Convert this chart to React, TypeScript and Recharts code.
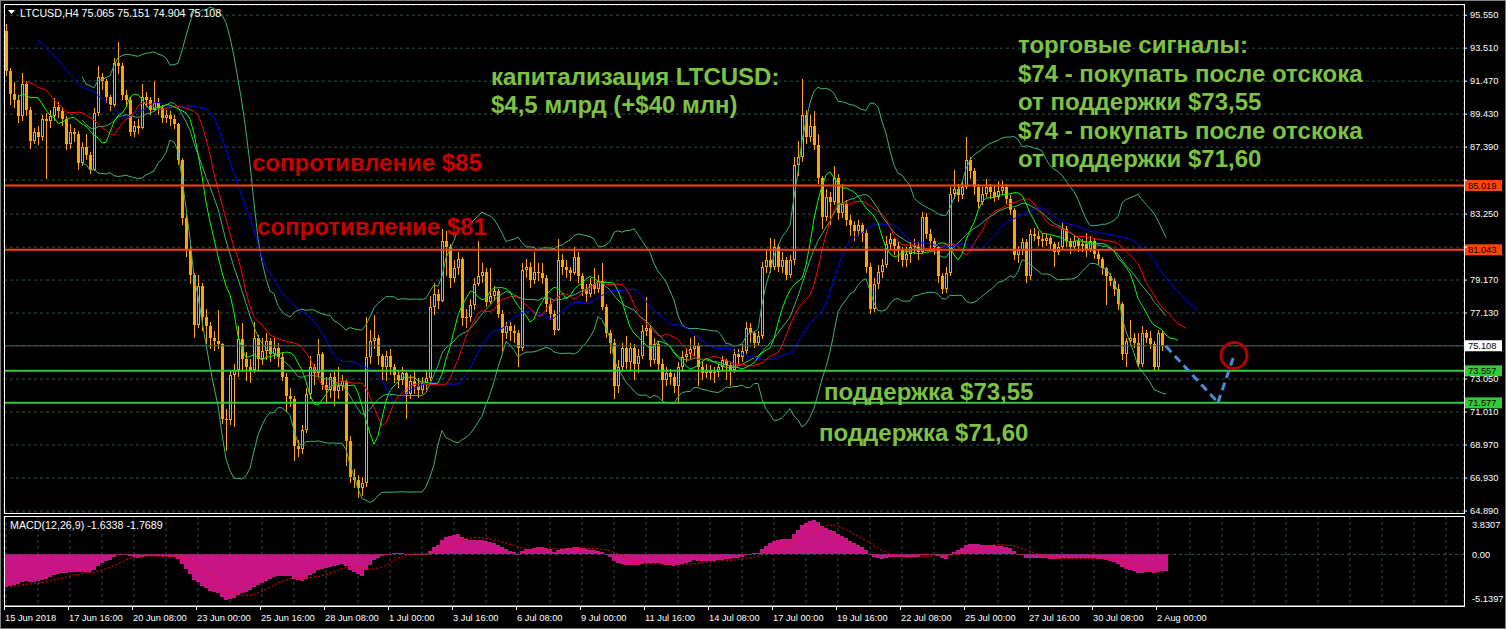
import React from 'react';
import {
  ComposedChart,
  Bar,
  Line,
  XAxis,
  YAxis,
  CartesianGrid,
  ReferenceLine,
  ReferenceDot,
} from 'recharts';

// LTCUSD H4, 15 Jun 2018 00:00 .. 2 Aug 2018 08:00 (291 bars, open = previous close)
const firstOpen = 94.6;

const closes = [
  92.1, 90.7, 90.3, 89.3, 91.3, 89.7, 87.8, 88.3, 88.0, 89.1, 89.0, 89.3, 89.9, 89.6, 89.1, 87.6,
  88.3, 88.2, 86.4, 87.4, 86.9, 86.0, 89.5, 91.7, 91.5, 90.5, 90.0, 92.6, 92.4, 90.6, 90.3, 88.3,
  88.7, 88.6, 90.5, 90.3, 89.7, 90.1, 89.8, 89.2, 89.4, 89.1, 88.8, 86.6, 83.0, 81.1, 79.5, 76.4,
  78.8, 76.9, 76.3, 75.6, 75.4, 75.2, 70.6, 70.5, 73.3, 73.6, 75.5, 74.3, 73.8, 73.6, 75.6, 74.3,
  74.8, 75.4, 74.6, 75.0, 74.4, 73.2, 72.0, 71.8, 68.9, 68.7, 69.9, 72.1, 73.8, 73.4, 74.6, 72.7,
  72.4, 73.2, 72.3, 72.6, 72.9, 69.2, 67.0, 66.8, 66.3, 66.6, 74.4, 75.4, 75.6, 74.5, 73.8, 74.5,
  73.8, 73.3, 73.0, 73.4, 72.1, 72.9, 72.6, 72.4, 72.8, 73.1, 77.5, 78.3, 77.9, 81.6, 81.2, 79.3,
  79.9, 80.5, 76.8, 76.9, 77.6, 78.9, 79.4, 79.7, 77.8, 78.2, 78.5, 77.1, 75.9, 76.3, 76.0, 75.9,
  75.0, 79.8, 80.0, 79.2, 79.7, 79.6, 79.3, 77.7, 77.1, 76.1, 80.4, 80.0, 79.8, 79.6, 80.6, 79.4,
  78.6, 78.3, 78.9, 78.6, 79.1, 77.5, 75.9, 75.3, 72.6, 73.8, 75.0, 74.1, 75.0, 74.0, 74.5, 76.0,
  76.2, 74.2, 75.2, 74.0, 73.0, 73.4, 73.2, 72.6, 73.8, 74.4, 74.6, 74.9, 75.1, 73.8, 73.4, 73.6,
  73.4, 73.5, 73.8, 74.2, 73.9, 73.6, 74.6, 74.4, 74.8, 76.2, 75.9, 75.3, 75.7, 80.0, 80.4, 80.0,
  81.2, 80.0, 80.4, 79.5, 80.4, 86.3, 86.8, 89.4, 88.0, 88.7, 87.5, 85.5, 83.1, 84.3, 84.0, 85.5,
  83.3, 83.9, 82.9, 82.6, 82.2, 82.6, 82.1, 80.0, 77.4, 78.9, 79.7, 80.1, 81.4, 81.7, 81.3, 81.0,
  80.4, 80.8, 81.2, 81.3, 80.9, 83.1, 82.0, 81.6, 81.2, 79.4, 78.6, 79.6, 84.5, 84.8, 84.4, 84.9,
  86.6, 85.9, 84.9, 84.0, 84.5, 84.9, 84.6, 84.3, 84.7, 84.9, 84.2, 83.5, 80.7, 81.0, 81.5, 79.4,
  82.0, 81.9, 81.7, 81.6, 81.8, 81.4, 80.9, 81.2, 82.3, 81.6, 81.2, 81.6, 81.3, 81.4, 81.1, 81.6,
  80.8, 80.5, 79.9, 79.4, 79.1, 78.6, 77.7, 74.6, 75.4, 75.6, 75.3, 74.0, 75.9, 75.6, 75.2, 73.8,
  75.9, 75.065, 75.108,
];

const highs = [
  95.0, 92.3, 91.4, 90.6, 92.0, 91.5, 89.9, 88.6, 88.7, 89.4, 89.5, 89.7, 90.4, 90.2, 89.9, 89.3,
  88.8, 88.6, 88.4, 87.7, 88.2, 87.1, 89.8, 92.4, 92.0, 91.6, 90.6, 92.9, 93.9, 92.6, 90.9, 90.5,
  89.0, 89.1, 91.3, 90.8, 90.5, 91.5, 90.4, 90.0, 89.7, 89.6, 89.4, 88.9, 86.7, 83.2, 81.3, 79.6,
  79.5, 79.0, 77.4, 76.6, 76.0, 77.3, 75.3, 71.2, 73.6, 74.0, 76.3, 76.5, 74.7, 74.3, 76.6, 75.8,
  75.6, 75.9, 75.6, 75.6, 75.3, 74.7, 73.4, 72.5, 72.0, 69.3, 70.2, 72.5, 74.5, 74.0, 75.5, 74.7,
  73.2, 73.4, 73.5, 73.8, 73.3, 73.0, 69.5, 67.5, 67.1, 67.0, 76.9, 76.1, 77.0, 75.8, 74.6, 74.8,
  74.9, 74.0, 73.6, 73.8, 73.5, 73.3, 73.6, 73.1, 73.2, 73.6, 78.2, 79.0, 78.6, 82.3, 82.2, 81.4,
  80.4, 80.9, 80.6, 77.4, 78.0, 79.3, 81.6, 80.2, 79.9, 79.9, 78.8, 78.6, 77.3, 76.6, 76.6, 76.4,
  76.1, 80.2, 80.5, 80.3, 80.9, 80.2, 80.2, 79.5, 78.0, 77.3, 81.7, 80.8, 80.4, 80.0, 81.2, 80.9,
  79.6, 78.9, 79.3, 79.9, 79.5, 80.2, 77.7, 76.1, 75.5, 74.2, 75.3, 75.7, 75.3, 75.2, 74.9, 76.4,
  78.1, 76.4, 75.6, 75.4, 74.3, 73.8, 73.7, 73.4, 74.1, 74.8, 75.0, 75.6, 75.7, 75.3, 74.1, 74.0,
  73.9, 73.8, 74.0, 74.5, 74.3, 74.1, 74.9, 74.9, 75.2, 76.6, 76.5, 76.0, 76.0, 80.3, 81.1, 81.8,
  81.7, 81.4, 80.9, 80.6, 80.7, 86.8, 87.8, 91.6, 89.7, 89.4, 89.6, 88.2, 85.6, 84.8, 84.6, 86.2,
  85.7, 85.1, 84.1, 83.2, 82.8, 82.9, 82.7, 82.3, 80.2, 79.3, 80.1, 80.5, 81.9, 82.1, 81.8, 81.5,
  81.2, 81.2, 81.5, 81.7, 81.5, 83.4, 83.3, 82.3, 81.8, 81.3, 79.6, 80.0, 84.9, 86.0, 85.1, 85.3,
  88.0, 86.8, 86.1, 85.1, 84.9, 85.4, 85.1, 85.0, 85.3, 85.3, 85.1, 84.4, 83.6, 81.3, 81.8, 81.7,
  82.3, 82.4, 82.2, 82.1, 82.0, 81.9, 81.5, 81.5, 82.7, 82.5, 81.8, 81.9, 81.8, 81.7, 82.1, 81.9,
  81.7, 81.0, 80.6, 80.0, 79.6, 79.3, 78.9, 77.8, 75.6, 76.7, 75.9, 75.9, 76.3, 76.1, 76.0, 75.4,
  76.1, 76.0, 75.151,
];

const lows = [
  91.8, 90.0, 89.8, 88.9, 89.0, 89.3, 87.3, 87.6, 87.5, 87.8, 85.4, 88.6, 89.0, 89.2, 88.7, 87.2,
  87.3, 87.7, 86.0, 86.2, 86.6, 85.7, 85.9, 89.3, 90.9, 90.1, 89.6, 89.9, 91.9, 90.3, 89.9, 88.1,
  88.0, 88.2, 88.5, 89.9, 89.4, 89.6, 89.4, 88.9, 88.9, 88.7, 88.5, 86.3, 82.6, 80.6, 78.9, 75.6,
  76.2, 76.0, 75.2, 74.9, 74.8, 74.9, 70.3, 68.6, 70.2, 70.1, 73.2, 73.5, 72.9, 72.8, 73.4, 73.5,
  73.9, 74.2, 74.1, 74.3, 73.8, 72.9, 71.0, 71.3, 68.0, 68.2, 68.4, 69.7, 71.8, 72.7, 73.1, 72.4,
  71.5, 71.9, 71.4, 71.8, 72.3, 67.7, 66.6, 66.3, 65.7, 65.8, 66.4, 74.0, 74.9, 73.9, 73.0, 72.9,
  73.3, 72.8, 72.5, 72.7, 70.6, 71.8, 72.1, 71.9, 72.1, 72.4, 72.9, 77.0, 77.4, 77.8, 79.4, 78.7,
  79.0, 79.5, 76.3, 76.2, 76.6, 77.3, 78.8, 79.0, 77.5, 77.6, 77.9, 76.8, 74.8, 75.5, 75.4, 75.3,
  73.8, 74.8, 79.3, 78.7, 78.9, 79.1, 78.9, 77.2, 76.7, 75.8, 76.0, 79.5, 79.3, 79.1, 79.5, 79.0,
  78.2, 77.8, 78.1, 78.3, 78.4, 77.3, 75.6, 74.6, 71.8, 72.2, 73.5, 73.7, 73.6, 73.0, 73.4, 74.3,
  75.7, 73.8, 74.0, 73.6, 71.7, 72.6, 72.7, 72.2, 71.5, 73.5, 74.1, 74.3, 74.5, 72.6, 73.0, 73.1,
  73.0, 72.8, 73.2, 73.5, 73.0, 72.6, 73.4, 74.0, 74.1, 74.6, 75.3, 75.0, 75.1, 75.5, 79.6, 79.6,
  79.8, 79.7, 79.6, 79.2, 79.3, 80.1, 85.6, 86.5, 87.6, 87.7, 87.2, 85.1, 82.3, 82.8, 82.6, 83.8,
  82.9, 83.0, 82.5, 81.9, 81.6, 81.9, 81.5, 79.6, 77.1, 77.2, 78.6, 79.3, 79.9, 81.0, 80.7, 80.3,
  80.0, 80.0, 80.2, 80.8, 80.4, 80.8, 81.7, 81.1, 80.7, 79.0, 78.3, 78.4, 79.4, 84.2, 84.0, 84.2,
  84.8, 85.4, 84.4, 83.6, 83.8, 84.3, 84.2, 84.0, 84.1, 84.4, 83.9, 83.2, 80.4, 80.2, 80.7, 79.0,
  79.2, 81.6, 81.3, 81.2, 81.3, 81.0, 80.0, 80.7, 81.0, 81.2, 80.8, 81.0, 80.9, 80.9, 80.6, 80.9,
  80.5, 80.1, 79.5, 77.6, 78.8, 78.2, 77.3, 74.2, 73.8, 75.1, 75.0, 73.8, 73.8, 75.3, 74.9, 73.6,
  73.6, 74.8, 74.904,
];

// indicator values at the left edge
const jawStart = 94.0;
const teethStart = 91.4;
const lipsStart = 90.5;
const macdStart = -3.25;

const priceTicks = [
  95.55, 93.51, 91.47, 89.43, 87.39, 85.35, 83.25, 81.21, 79.17, 77.13, 75.09, 73.05, 71.01, 68.97,
  66.93, 64.89,
];
const coveredTicks = [85.35, 81.21, 75.09];
const macdTicks = [3.8307, 0, -5.1397];

const timeLabels = [
  '15 Jun 2018', '17 Jun 16:00', '20 Jun 08:00', '23 Jun 00:00', '25 Jun 16:00', '28 Jun 08:00',
  '1 Jul 00:00', '3 Jul 16:00', '6 Jul 08:00', '9 Jul 00:00', '11 Jul 16:00', '14 Jul 08:00',
  '17 Jul 00:00', '19 Jul 16:00', '22 Jul 08:00', '25 Jul 00:00', '27 Jul 16:00', '30 Jul 08:00',
  '2 Aug 00:00',
];

const resistanceLevels = [85.019, 81.043];
const supportLevels = [73.557, 71.577];
const bidPrice = 75.108;

const forecastBars = [290, 303, 307];
const forecastPrices = [75.07, 71.6, 74.5];

// ---------- layout ----------
const W = 1506;
const H = 629;
const SLOTS = 365; // bars incl. empty space on the right
const AXIS_W = 42;
const CANDLE = '#FFA500';
const GRID = '#2F4F4F';
const HIST = '#C71585';
const FONT = '"Liberation Sans", Arial, sans-serif';

// ---------- indicators ----------
const N = closes.length;
const opens = closes.map((c, i) => (i === 0 ? firstOpen : closes[i - 1]));
const medians = highs.map((h, i) => (h + lows[i]) / 2);

function smma(src: number[], period: number, start: number) {
  let v = start;
  return src.map((p, i) => {
    if (i > 0) v = (v * (period - 1) + p) / period;
    return v;
  });
}

const jaw = smma(medians, 13, jawStart);
const teeth = smma(medians, 8, teethStart);
const lips = smma(medians, 5, lipsStart);

const bands = closes.map((_, i) => {
  if (i < 19) return null;
  const win = closes.slice(i - 19, i + 1);
  const mean = win.reduce((a, b) => a + b, 0) / 20;
  const sd = Math.sqrt(win.reduce((a, b) => a + (b - mean) * (b - mean), 0) / 20);
  return { mid: mean, up: mean + 2 * sd, lo: mean - 2 * sd };
});

let e12 = closes[0];
let e26 = closes[0] - macdStart;
const macd = closes.map((c, i) => {
  if (i > 0) {
    e12 += (2 / 13) * (c - e12);
    e26 += (2 / 27) * (c - e26);
  }
  return e12 - e26;
});
const signal = macd.map((_, i) => {
  const w = macd.slice(Math.max(0, i - 8), i + 1);
  return w.reduce((a, b) => a + b, 0) / w.length;
});

const shifted = (arr: number[], i: number, shift: number) =>
  i - shift >= 0 && i - shift < arr.length ? arr[i - shift] : null;

const rows = Array.from({ length: SLOTS }, (_, i) => {
  const real = i < N;
  return {
    i,
    range: real ? [lows[i], highs[i]] : null,
    open: real ? opens[i] : null,
    close: real ? closes[i] : null,
    high: real ? highs[i] : null,
    low: real ? lows[i] : null,
    jaw: shifted(jaw, i, 8),
    teeth: shifted(teeth, i, 5),
    lips: shifted(lips, i, 3),
    bbUp: real && bands[i] ? bands[i]!.up : null,
    bbMid: real && bands[i] ? bands[i]!.mid : null,
    bbLo: real && bands[i] ? bands[i]!.lo : null,
    macd: real ? macd[i] : null,
    signal: real ? signal[i] : null,
  };
});

const gridTicks = Array.from({ length: 46 }, (_, k) => k * 8);

// ---------- shapes ----------
const Candle = (props: any) => {
  const { x, y, width, height, payload } = props;
  if (!payload || payload.open == null || !isFinite(y) || !isFinite(height)) return null;
  const { open, close } = payload;
  const high = Math.max(payload.high, open, close);
  const low = Math.min(payload.low, open, close);
  const yTop = Math.min(y, y + height);
  const h = Math.abs(height);
  const span = high - low || 1;
  const toY = (v: number) => yTop + ((high - v) / span) * h;
  const cx = Math.floor(x + width / 2) + 0.5;
  const top = Math.round(toY(Math.max(open, close)));
  const bot = Math.round(toY(Math.min(open, close)));
  const bodyH = Math.max(1, bot - top);
  const left = cx - 1.5;
  const bull = close > open;
  return (
    <g shapeRendering="crispEdges">
      <line x1={cx} x2={cx} y1={Math.round(yTop)} y2={top} stroke={CANDLE} />
      <line x1={cx} x2={cx} y1={top + bodyH} y2={Math.round(yTop + h)} stroke={CANDLE} />
      {bull && bodyH > 2 ? (
        <rect x={left + 0.5} y={top + 0.5} width={2} height={bodyH - 1} fill="#000" stroke={CANDLE} />
      ) : (
        <rect x={left} y={top} width={3} height={bodyH} fill={CANDLE} />
      )}
    </g>
  );
};

const HistBar = (props: any) => {
  const { x, y, width, height } = props;
  if (!isFinite(x) || !isFinite(y) || !isFinite(height)) return null;
  const top = Math.round(Math.min(y, y + height));
  const bot = Math.round(Math.max(y, y + height));
  const left = Math.round(x + width / 2 - 2);
  return <rect x={left} y={top} width={4} height={Math.max(1, bot - top)} fill={HIST} shapeRendering="crispEdges" />;
};

const PriceTick = (props: any) => {
  const { y, payload } = props;
  const v = payload.value as number;
  return (
    <g>
      <line x1={1464} x2={1467} y1={y} y2={y} stroke="#fff" />
      {coveredTicks.includes(v) ? null : (
        <text x={1470} y={y} dy="0.35em" fill="#fff" fontSize={9.3} fontFamily={FONT}>
          {v.toFixed(3)}
        </text>
      )}
    </g>
  );
};

const MacdTick = (props: any) => {
  const { y, payload } = props;
  const v = payload.value as number;
  const off = v > 0 ? 9 : v < 0 ? -7 : 0;
  return (
    <text x={1472} y={y + off} dy="0.35em" fill="#fff" fontSize={9.3} fontFamily={FONT}>
      {v === 0 ? '0.00' : v.toFixed(4)}
    </text>
  );
};

const TimeTick = (props: any) => {
  const { x, y, payload } = props;
  const v = payload.value as number;
  if (v % 16 !== 0) return null;
  const label = timeLabels[v / 16];
  if (!label) return null;
  return (
    <g>
      <line x1={x - 1.5} x2={x - 1.5} y1={y - 8} y2={y - 4} stroke="#fff" />
      <text x={x - 1} y={y + 7} fill="#fff" fontSize={9.3} fontFamily={FONT}>
        {label}
      </text>
    </g>
  );
};

const PriceBox = (props: any) => {
  const { viewBox, fill, value } = props;
  if (!viewBox) return null;
  const left = viewBox.x + viewBox.width + 1;
  const y = viewBox.y;
  return (
    <g>
      <rect x={left} y={y - 5.5} width={37} height={11} fill={fill} />
      <text x={left + 3} y={y} dy="0.36em" fill="#000" fontSize={9.3} fontFamily={FONT}>
        {value.toFixed(3)}
      </text>
    </g>
  );
};

const green = '#7DC242';
const red = '#C80000';

export default function App() {
  return (
    <div style={{ position: 'absolute', left: 0, top: 0, width: W, height: H, background: '#000', overflow: 'hidden' }}>
      <div style={{ position: 'absolute', left: 0, top: 0 }}>
        <ComposedChart width={W} height={516} data={rows} margin={{ top: 5, right: 0, bottom: 3, left: 4 }} barCategoryGap={0}>
          <CartesianGrid stroke={GRID} strokeDasharray="3 3" />
          <XAxis dataKey="i" type="category" ticks={gridTicks} interval={0} tick={false} tickLine={false} axisLine={false} height={0} />
          <YAxis
            orientation="right"
            width={AXIS_W}
            domain={[64.766, 96.18]}
            ticks={priceTicks}
            interval={0}
            allowDataOverflow
            axisLine={false}
            tickLine={false}
            tick={(p: any) => <PriceTick {...p} />}
          />
          <Bar dataKey="range" barSize={3} shape={(p: any) => <Candle {...p} />} isAnimationActive={false} />
          <Line dataKey="bbUp" stroke="#3CB371" dot={false} activeDot={false} isAnimationActive={false} />
          <Line dataKey="bbMid" stroke="#3CB371" dot={false} activeDot={false} isAnimationActive={false} />
          <Line dataKey="bbLo" stroke="#3CB371" dot={false} activeDot={false} isAnimationActive={false} />
          <Line dataKey="jaw" stroke="#0000FF" dot={false} activeDot={false} isAnimationActive={false} />
          <Line dataKey="teeth" stroke="#FF0000" dot={false} activeDot={false} isAnimationActive={false} />
          <Line dataKey="lips" stroke="#00FF00" dot={false} activeDot={false} isAnimationActive={false} />
          <ReferenceLine y={bidPrice} stroke="#3E5C5C" label={<PriceBox fill="#FFFFFF" value={bidPrice} />} />
          {resistanceLevels.map((p) => (
            <ReferenceLine key={p} y={p} stroke="#FF4500" strokeWidth={2} label={<PriceBox fill="#FF4500" value={p} />} />
          ))}
          {supportLevels.map((p) => (
            <ReferenceLine key={p} y={p} stroke="#32CD32" strokeWidth={2} label={<PriceBox fill="#32CD32" value={p} />} />
          ))}
          {forecastBars.slice(1).map((b, k) => (
            <ReferenceLine
              key={b}
              segment={[
                { x: forecastBars[k], y: forecastPrices[k] },
                { x: b, y: forecastPrices[k + 1] },
              ]}
              stroke="#4A8BD6"
              strokeWidth={3}
              strokeDasharray="8 5"
            />
          ))}
          <ReferenceDot
            x={forecastBars[2]}
            y={forecastPrices[2]}
            r={13}
            fill="none"
            stroke="#B40000"
            strokeWidth={3}
          />
        </ComposedChart>
      </div>
      <div style={{ position: 'absolute', left: 0, top: 510 }}>
        <ComposedChart width={W} height={119} data={rows} margin={{ top: 6, right: 0, bottom: 0, left: 4 }} barCategoryGap={0}>
          <CartesianGrid stroke={GRID} strokeDasharray="3 3" horizontal={false} />
          <XAxis
            dataKey="i"
            type="category"
            ticks={gridTicks}
            interval={0}
            height={23}
            tickLine={false}
            axisLine={{ stroke: '#fff' }}
            tick={(p: any) => <TimeTick {...p} />}
          />
          <YAxis
            orientation="right"
            width={AXIS_W}
            domain={[-5.1397, 3.8307]}
            ticks={macdTicks}
            interval={0}
            allowDataOverflow
            axisLine={false}
            tickLine={false}
            tick={(p: any) => <MacdTick {...p} />}
          />
          <ReferenceLine y={0} stroke={GRID} strokeDasharray="3 3" />
          <Bar dataKey="macd" fill={HIST} barSize={4} shape={(p: any) => <HistBar {...p} />} isAnimationActive={false} />
          <Line dataKey="signal" stroke="#FF0000" strokeDasharray="2 2" dot={false} activeDot={false} isAnimationActive={false} />
        </ComposedChart>
      </div>
      <svg width={W} height={H} style={{ position: 'absolute', left: 0, top: 0, pointerEvents: 'none' }}>
        <rect x={0.5} y={0.5} width={W - 1} height={H - 1} fill="none" stroke="#808080" />
        <rect x={4.5} y={4.5} width={1460} height={509} fill="none" stroke="#fff" />
        <rect x={4.5} y={516.5} width={1460} height={90} fill="none" stroke="#fff" />
        <polygon points="8,10 15,10 11.5,14" fill="#fff" />
        <text x={20} y={16.5} fill="#fff" fontSize={10.7} fontFamily={FONT}>
          LTCUSD,H4  75.065 75.151 74.904 75.108
        </text>
        <text x={10} y={529} fill="#fff" fontSize={10.7} fontFamily={FONT}>
          MACD(12,26,9) -1.6338 -1.7689
        </text>
        <g fontFamily={FONT} fontWeight="bold" fontSize={24}>
          <text x={252} y={171} fill={red}>сопротивление $85</text>
          <text x={257} y={235} fill={red}>сопротивление $81</text>
          <text x={491} y={85} fill={green}>капитализация LTCUSD:</text>
          <text x={491} y={113} fill={green}>$4,5 млрд (+$40 млн)</text>
          <text x={1018} y={53} fill={green}>торговые сигналы:</text>
          <text x={1018} y={81.5} fill={green}>$74 - покупать после отскока</text>
          <text x={1018} y={110} fill={green}>от поддержки $73,55</text>
          <text x={1018} y={138.5} fill={green}>$74 - покупать после отскока</text>
          <text x={1018} y={167} fill={green}>от поддержки $71,60</text>
          <text x={824} y={400} fill={green}>поддержка $73,55</text>
          <text x={819} y={441} fill={green}>поддержка $71,60</text>
        </g>
      </svg>
    </div>
  );
}
